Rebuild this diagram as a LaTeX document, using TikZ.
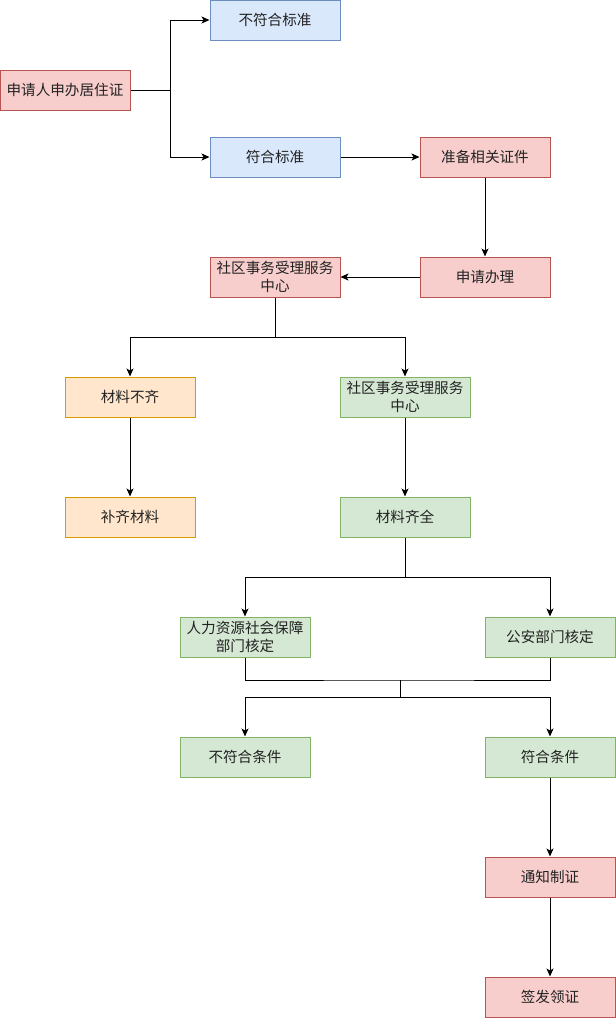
\documentclass[tikz,border=0pt]{standalone}
\usepackage{fontspec}
\newfontfamily\cjk{Noto Sans CJK SC}
\usetikzlibrary{arrows.meta}
\definecolor{redF}{HTML}{F8CECC}\definecolor{redD}{HTML}{B85450}
\definecolor{bluF}{HTML}{DAE8FC}\definecolor{bluD}{HTML}{6C8EBF}
\definecolor{orgF}{HTML}{FFE6CC}\definecolor{orgD}{HTML}{D79B00}
\definecolor{grnF}{HTML}{D5E8D4}\definecolor{grnD}{HTML}{82B366}
\definecolor{txt}{HTML}{222222}
\tikzset{
  box/.style={draw, line width=1pt, rectangle, minimum width=130pt, minimum height=40pt, inner sep=0pt, align=center, text=txt, font=\cjk\fontsize{14.6}{18}\selectfont},
  redbox/.style={box, fill=redF, draw=redD},
  blubox/.style={box, fill=bluF, draw=bluD},
  orgbox/.style={box, fill=orgF, draw=orgD},
  grnbox/.style={box, fill=grnF, draw=grnD},
  line/.style={line width=1pt, black},
  arr/.style={line, -{Stealth[length=8pt,width=7pt,inset=2pt]}}
}
\begin{document}
\begin{tikzpicture}[x=1pt,y=-1pt]
\useasboundingbox (0,0) rectangle (616,1018);
\node[redbox] (apply) at (65,90) {申请人申办居住证};
\node[blubox] (nostd) at (275,20) {不符合标准};
\node[blubox] (std) at (275,157) {符合标准};
\node[redbox] (prep) at (485,157) {准备相关证件};
\node[redbox] (req) at (485,277) {申请办理};
\node[redbox] (ctr1) at (275,277) {社区事务受理服务\\中心};
\node[orgbox] (lack) at (130,397) {材料不齐};
\node[grnbox] (ctr2) at (405,397) {社区事务受理服务\\中心};
\node[orgbox] (fill) at (130,517) {补齐材料};
\node[grnbox] (full) at (405,517) {材料齐全};
\node[grnbox] (hr) at (245,637) {人力资源社会保障\\部门核定};
\node[grnbox] (police) at (550,637) {公安部门核定};
\node[grnbox] (nocond) at (245,757) {不符合条件};
\node[grnbox] (cond) at (550,757) {符合条件};
\node[redbox] (notify) at (550,877) {通知制证};
\node[redbox] (issue) at (550,997) {签发领证};
\coordinate (fork1) at (170,90);
\coordinate (fork2) at (275,337);
\coordinate (fork3) at (405,577);
\coordinate (join) at (400,680);
\coordinate (fork4) at (400,697);

\draw[line] (apply.east) -- (fork1);
\draw[arr] (fork1) |- (nostd.west);
\draw[arr] (fork1) |- (std.west);
\draw[arr] (std) -- (prep);
\draw[arr] (prep) -- (req);
\draw[arr] (req) -- (ctr1);
\draw[line] (ctr1.south) -- (fork2);
\draw[arr] (fork2) -| (lack.north);
\draw[arr] (fork2) -| (ctr2.north);
\draw[arr] (lack) -- (fill);
\draw[arr] (ctr2) -- (full);
\draw[line] (full.south) -- (fork3);
\draw[arr] (fork3) -| (hr.north);
\draw[arr] (fork3) -| (police.north);
\draw[line] (hr.south) |- (join) -| (police.south);
\draw[line] (join) -- (fork4);
\draw[arr] (fork4) -| (nocond.north);
\draw[arr] (fork4) -| (cond.north);
\draw[arr] (cond) -- (notify);
\draw[arr] (notify) -- (issue);
\end{tikzpicture}
\end{document}
